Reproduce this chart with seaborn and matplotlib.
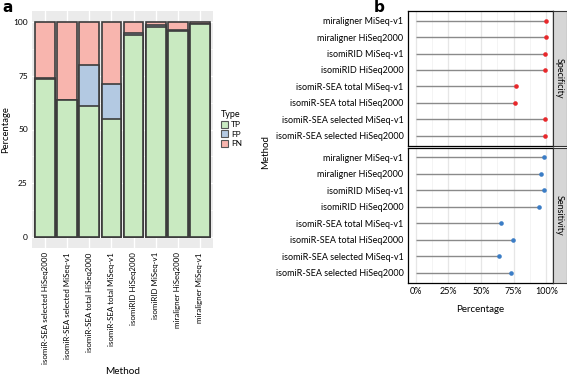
import numpy as np
import pandas as pd
import matplotlib.pyplot as plt
import seaborn as sns
from matplotlib.patches import Patch

# panel a: stacked TP / FP / FN percentages per method
methods_a = ["isomiR-SEA selected HiSeq2000", "isomiR-SEA selected MiSeq-v1",
             "isomiR-SEA total HiSeq2000", "isomiR-SEA total MiSeq-v1",
             "isomiRID HiSeq2000", "isomiRID MiSeq-v1",
             "miraligner HiSeq2000", "miraligner MiSeq-v1"]
tp = [73.3, 63.5, 60.9, 54.7, 93.8, 97.8, 95.7, 98.8]
fp = [0.4, 0.4, 18.9, 16.3, 1.2, 0.6, 0.3, 0.2]
fn = [26.3, 36.1, 20.2, 29.0, 5.0, 1.6, 4.0, 1.0]

# panel b: specificity / sensitivity (listed top to bottom)
methods_b = ["miraligner MiSeq-v1", "miraligner HiSeq2000",
             "isomiRID MiSeq-v1", "isomiRID HiSeq2000",
             "isomiR-SEA total MiSeq-v1", "isomiR-SEA total HiSeq2000",
             "isomiR-SEA selected MiSeq-v1", "isomiR-SEA selected HiSeq2000"]
specificity = [99.5, 99.5, 99.2, 98.7, 76.8, 76.0, 98.7, 99.0]
sensitivity = [98.5, 95.7, 98.2, 94.3, 65.3, 74.7, 63.5, 73.0]

sns.set_style("white")
plt.rcParams["font.family"] = ["Lato", "DejaVu Sans"]
plt.rcParams["text.color"] = "black"
plt.rcParams["axes.labelcolor"] = "black"
plt.rcParams["xtick.labelcolor"] = "black"
plt.rcParams["ytick.labelcolor"] = "black"

W, H = 567, 375
fig = plt.figure(figsize=(W / 100, H / 100), dpi=100)


def box(x0, y0, x1, y1):
    return [x0 / W, 1 - y1 / H, (x1 - x0) / W, (y1 - y0) / H]


# ---------------- panel a ----------------
col_tp, col_fp, col_fn = "#c9eac1", "#b3c9e2", "#f8b5ae"
edge = "#3c3c3c"

df = pd.DataFrame({"Method": methods_a, "TP": tp, "FP": fp, "FN": fn})
df["tp_fp"] = df["TP"] + df["FP"]
df["total"] = df["tp_fp"] + df["FN"]

ax = fig.add_axes(box(32, 11, 213, 248))
ax.set_facecolor("#ebebeb")
for y in [12.5, 37.5, 62.5, 87.5]:
    ax.axhline(y, color="white", lw=0.5, zorder=0)
for y in [0, 25, 50, 75, 100]:
    ax.axhline(y, color="white", lw=1.0, zorder=0)
for x in range(len(methods_a)):
    ax.axvline(x, color="white", lw=1.0, zorder=0)

for col, c in [("total", col_fn), ("tp_fp", col_fp), ("TP", col_tp)]:
    sns.barplot(data=df, x="Method", y=col, order=methods_a, color=c,
                saturation=1, width=0.9, edgecolor=edge, linewidth=1.2,
                ax=ax, zorder=2)

ax.set_xlim(-0.6, len(methods_a) - 0.4)
ax.set_ylim(-5, 105)
ax.set_yticks([0, 25, 50, 75, 100])
ax.set_yticklabels(["0", "25", "50", "75", "100"], fontsize=6)
ax.set_xticks(range(len(methods_a)))
ax.set_xticklabels(methods_a, rotation=90, fontsize=5.7)
ax.tick_params(axis="both", length=2, width=0.6, color="#444444", pad=1)
for s in ax.spines.values():
    s.set_visible(False)
ax.set_ylabel("Percentage", fontsize=6.8, labelpad=2)
ax.set_xlabel("Method", fontsize=7.2, labelpad=2)

handles = [Patch(facecolor=c, edgecolor="#555555", linewidth=0.8)
           for c in [col_tp, col_fp, col_fn]]
leg = fig.legend(handles, ["TP", "FP", "FN"], title="Type", loc="upper left",
                 bbox_to_anchor=(215 / W, 1 - 104 / H), frameon=False,
                 prop={"size": 6}, handlelength=0.9,
                 handleheight=0.9, handletextpad=0.3, labelspacing=0.25,
                 borderpad=0.2)
leg.get_title().set_fontsize(6.5)
leg._legend_box.align = "left"

fig.text(2 / W, 1, "a", fontsize=11, fontweight="bold",
         va="top", ha="left", family="DejaVu Sans")

# ---------------- panel b ----------------
facets = [("Specificity", specificity, "#e8282b", (10.7, 145.7)),
          ("Sensitivity", sensitivity, "#3b7dc6", (147.5, 282.5))]
for i, (name, vals, dot, (y0, y1)) in enumerate(facets):
    axb = fig.add_axes(box(408.3, y0, 552.7, y1))
    axb.set_facecolor("white")
    for x in [12.5, 37.5, 62.5, 87.5]:
        axb.axvline(x, color="#f0f0f0", lw=0.5, zorder=0)
    for x in [0, 25, 50, 75, 100]:
        axb.axvline(x, color="#e6e6e6", lw=0.9, zorder=0)
    pos = np.arange(len(methods_b))
    axb.hlines(pos, 0, vals, color="#8a8a8a", lw=1.0, zorder=1)
    sns.stripplot(x=vals, y=methods_b, order=methods_b, jitter=False,
                  color=dot, size=3.3, linewidth=0, ax=axb, zorder=3)
    axb.set_xlim(-5.7, 104.9)
    axb.set_ylim(len(methods_b) - 0.4, -0.6)
    axb.set_xticks([0, 25, 50, 75, 100])
    axb.tick_params(axis="both", length=2, width=0.6, color="#333333", pad=1.5)
    axb.set_yticks(pos)
    axb.set_yticklabels(methods_b, fontsize=6.5)
    axb.set_xlabel("")
    axb.set_ylabel("")
    if i == 0:
        axb.set_xticklabels([])
        axb.tick_params(axis="x", length=0)
    else:
        axb.set_xticklabels(["0%", "25%", "50%", "75%", "100%"], fontsize=6.5)
        axb.set_xlabel("Percentage", fontsize=7, labelpad=6)
    for s in axb.spines.values():
        s.set_visible(True)
        s.set_color("black")
        s.set_linewidth(0.9)

    strip = fig.add_axes(box(552.7, y0, 566.5, y1))
    strip.set_facecolor("#d6d6d6")
    strip.set_xticks([])
    strip.set_yticks([])
    for s in strip.spines.values():
        s.set_color("#333333")
        s.set_linewidth(0.8)
    strip.text(0.5, 0.5, name, rotation=270, ha="center", va="center",
               fontsize=6.5, transform=strip.transAxes)

fig.text(266 / W, 1 - 152 / H, "Method", rotation=90, ha="center",
         va="center", fontsize=7)
fig.text(374 / W, 1, "b", fontsize=11, fontweight="bold",
         va="top", ha="left", family="DejaVu Sans")

fig.savefig("out.png", dpi=100)
